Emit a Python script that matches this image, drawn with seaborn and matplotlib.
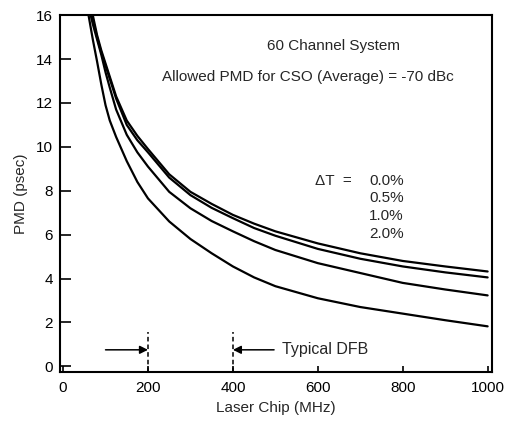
import numpy as np
import pandas as pd
import matplotlib
matplotlib.use("Agg")
import matplotlib.pyplot as plt
import seaborn as sns

# Lecture des courbes sur l'image (MHz -> psec)
freq = [60, 70, 80, 90, 100, 110, 125, 150, 175, 200, 250, 300, 350, 400, 450, 500, 600, 700, 800, 900, 1000]
pmd_00 = [17.0, 16.0, 15.1, 14.4, 13.8, 13.2, 12.3, 11.2, 10.5, 9.9, 8.75, 7.95, 7.4, 6.9, 6.5, 6.15, 5.6, 5.15, 4.8, 4.55, 4.32]
pmd_05 = [16.9, 15.8, 15.0, 14.3, 13.7, 13.1, 12.2, 11.0, 10.3, 9.75, 8.6, 7.8, 7.22, 6.75, 6.3, 5.95, 5.35, 4.9, 4.55, 4.28, 4.05]
pmd_10 = [16.4, 15.6, 14.9, 14.2, 13.4, 12.7, 11.7, 10.55, 9.75, 9.1, 7.95, 7.2, 6.62, 6.15, 5.7, 5.3, 4.7, 4.25, 3.8, 3.5, 3.23]
pmd_20 = [16.0, 14.9, 13.9, 12.85, 11.9, 11.2, 10.45, 9.35, 8.4, 7.65, 6.6, 5.8, 5.15, 4.55, 4.05, 3.65, 3.1, 2.7, 2.4, 2.1, 1.82]
dt_labels = ["0.0%", "0.5%", "1.0%", "2.0%"]

xticks = [0, 200, 400, 600, 800, 1000]
yticks = [0, 2, 4, 6, 8, 10, 12, 14, 16]

df = pd.DataFrame({
    "freq": freq * 4,
    "pmd": pmd_00 + pmd_05 + pmd_10 + pmd_20,
    "dT": np.repeat(dt_labels, len(freq)),
})

sns.set_theme(style="ticks")
plt.rcParams["font.family"] = ["Liberation Sans", "DejaVu Sans"]

fig = plt.figure(figsize=(5.05, 4.22), dpi=100)
ax = fig.add_axes([0.119, 0.118, 0.855, 0.846])

sns.lineplot(data=df, x="freq", y="pmd", hue="dT", palette=["black"] * 4,
             linewidth=1.6, legend=False, ax=ax)

ax.set_xlim(-7, 1010)
ax.set_ylim(-0.27, 16)
ax.set_xticks(xticks)
ax.set_yticks(yticks)
ax.tick_params(direction="in", length=4, width=1.2, labelsize=11, colors="black", pad=6)
ax.tick_params(axis="y", length=8, pad=5)
for s in ax.spines.values():
    s.set_linewidth(1.5)
    s.set_color("black")
ax.set_xlabel("Laser Chip (MHz)", fontsize=11, labelpad=5)
ax.set_ylabel("PMD (psec)", fontsize=11, labelpad=6)

# textes
ax.text(638, 14.6, "60 Channel System", ha="center", va="center", fontsize=11)
ax.text(577, 13.2, "Allowed PMD for CSO (Average) = -70 dBc", ha="center", va="center", fontsize=11)
ax.text(593, 8.45, "\u0394T  =", ha="left", va="center", fontsize=11)
for i, lab in enumerate(dt_labels):
    ax.text(802, 8.45 - i * 0.8, lab, ha="right", va="center", fontsize=11)

# fleches DFB
ax.plot([200, 200], [-0.27, 1.55], ls=(0, (3, 2)), color="black", lw=1.1)
ax.plot([400, 400], [-0.27, 1.55], ls=(0, (3, 2)), color="black", lw=1.1)
ax.annotate("", xy=(200, 0.75), xytext=(100, 0.75),
            arrowprops=dict(arrowstyle="-|>", color="black", lw=1.1, mutation_scale=12, shrinkA=0, shrinkB=0))
ax.annotate("", xy=(400, 0.75), xytext=(497, 0.75),
            arrowprops=dict(arrowstyle="-|>", color="black", lw=1.1, mutation_scale=12, shrinkA=0, shrinkB=0))
ax.text(515, 0.75, "Typical DFB", ha="left", va="center", fontsize=11.5)

fig.savefig("out.png", dpi=100)
